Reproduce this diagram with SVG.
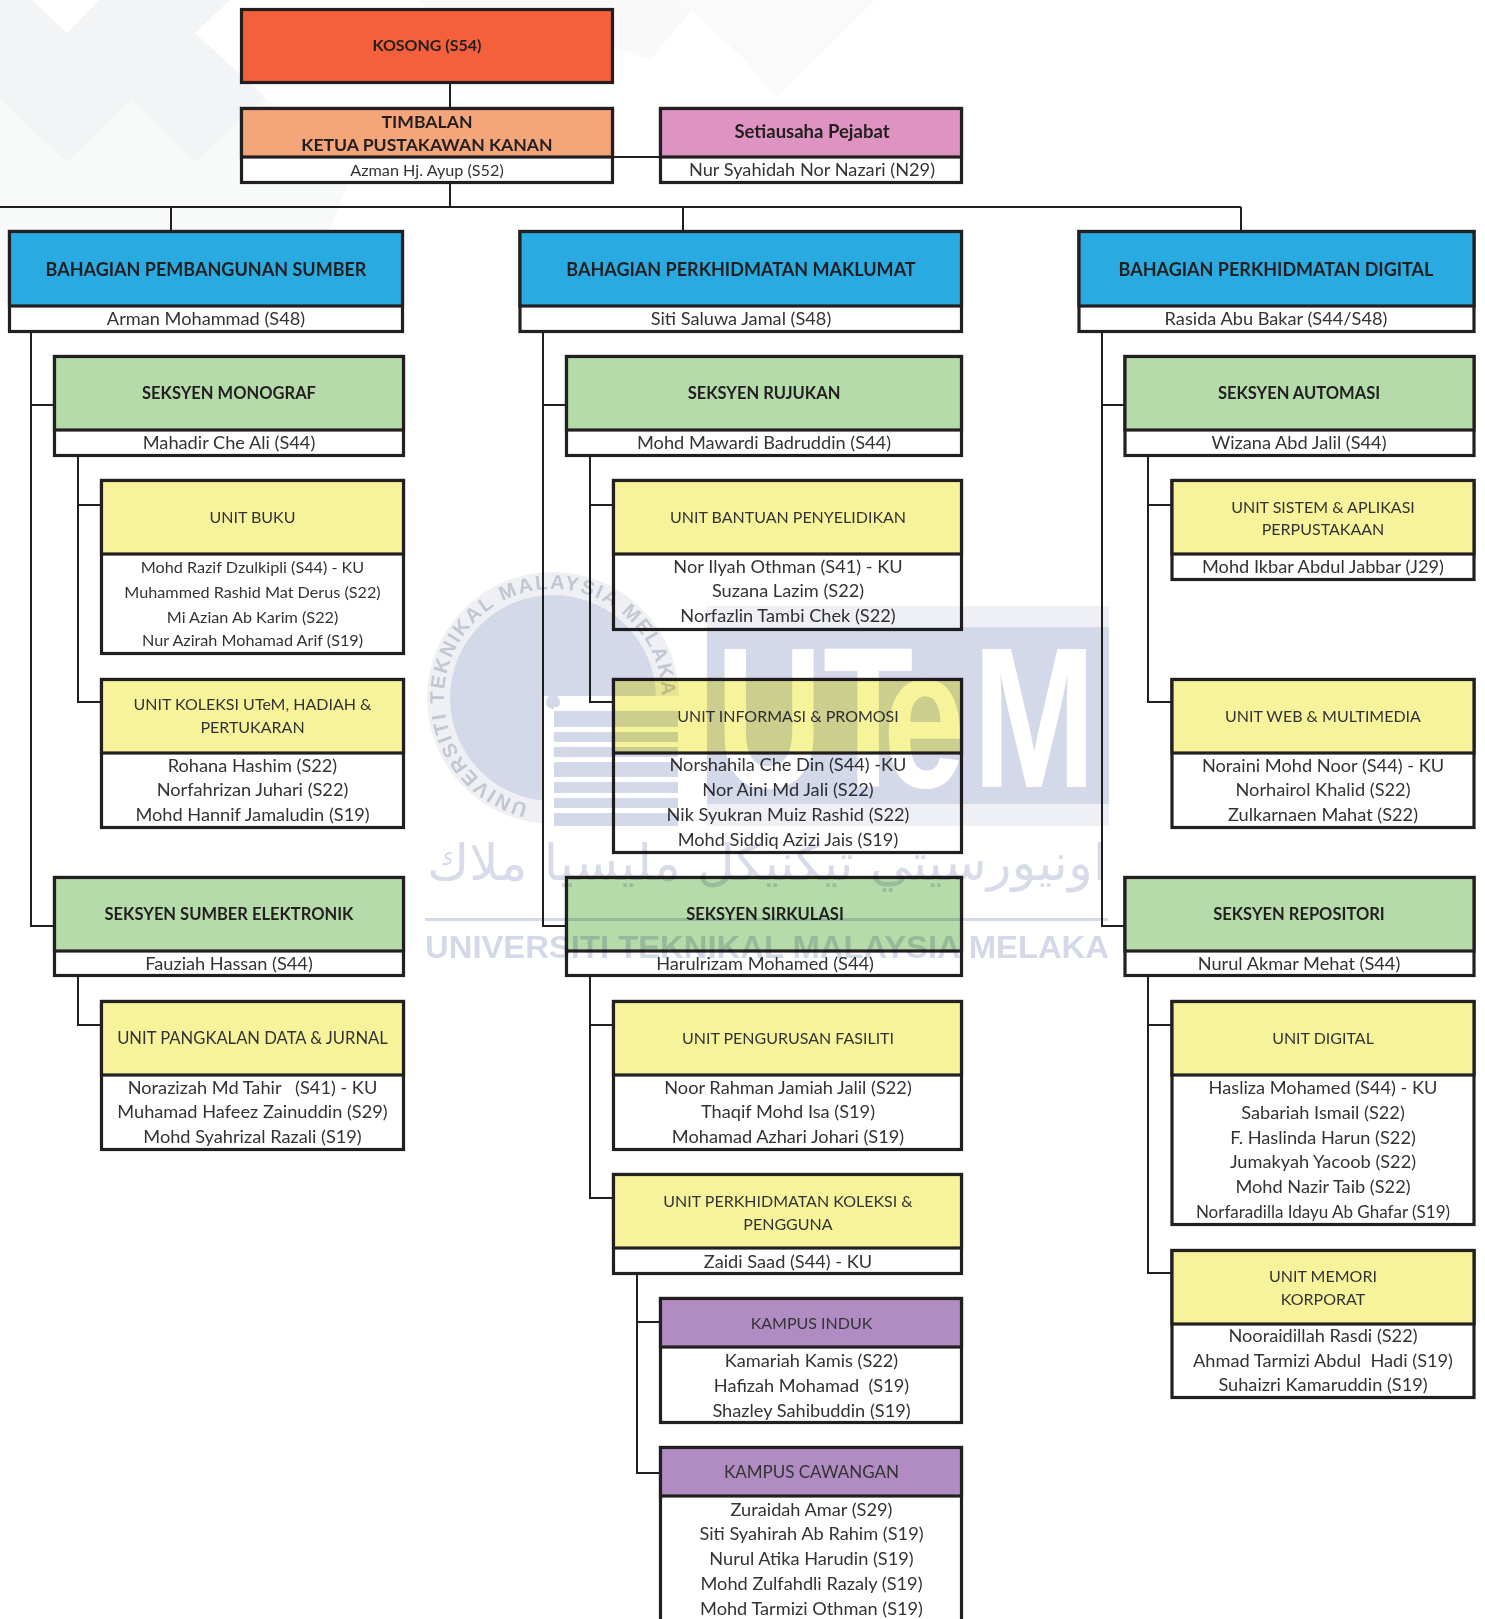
<svg xmlns="http://www.w3.org/2000/svg" width="1485" height="1619" viewBox="0 0 1485 1619" font-size="18.2" font-family="Lato, 'Liberation Sans', sans-serif">
<style>
text{text-anchor:middle;fill:#333335;white-space:pre}
.b{font-weight:700;fill:#231f20;font-size:16.500px}
.h{font-weight:700;fill:#231f20;font-size:18px}
.u{font-size:16px}
.n{font-size:16.200px}
.box{fill:#fff;stroke:#231f20;stroke-width:3.2}
.k{fill:#f4603c;stroke:#231f20;stroke-width:3.2}
.t{fill:#f4a57a;stroke:#231f20;stroke-width:3.2}
.s{fill:#de93c2;stroke:#231f20;stroke-width:3.2}
.d{fill:#29abe2;stroke:#231f20;stroke-width:3.2}
.g{fill:#b4dba9;stroke:#231f20;stroke-width:3.2}
.y{fill:#f7f39b;stroke:#231f20;stroke-width:3.2}
.p{fill:#b18cc2;stroke:#231f20;stroke-width:3.2}
.c path{fill:none;stroke:#231f20;stroke-width:2}
.wm{mix-blend-mode:multiply}
</style>
<rect width="1485" height="1619" fill="#fff"/>
<g id="background">
<polygon fill="#f3f4f5" points="0,0 32,0 67,33 99,0 230,0 195,33 265,97 195,163 131,100 67,163 0,100"/>
<polygon fill="#f8f9f9" points="0,100 67,163 131,100 195,163 265,97 350,180 300,300 200,330 120,260 60,330 0,300"/>
<polygon fill="#f9f9fa" points="420,0 700,0 650,60 560,30 470,60"/>
<polygon fill="#fafafb" points="680,0 875,0 776,98 745,60"/>
</g>
<g class="c" id="connectors">
<path d="M450 84V107M613 157H659M450 183V207M0 207H1241M171 207V231M683 207V231M1241 207V231"/>
<path d="M31 333V926H53M31 405H53M78 457V702H100M78 505H100M78 977V1025H100"/>
<path d="M543 333V926H566M543 405H566M590 457V702H612M590 505H612M590 977V1198H612M590 1025H612M637 1275V1473H659M637 1322H659"/>
<path d="M1102 333V926H1125M1102 405H1125M1148 457V702H1172M1148 505H1172M1148 977V1273H1172M1148 1025H1172"/>
</g>
<g id="kosong"><rect class="k" x="241.500" y="9.500" width="371" height="73"/><text class="b" x="427" y="51" style="font-size:16px">KOSONG (S54)</text></g>
<g id="timbalan"><rect class="box" x="241.500" y="108.500" width="371" height="74"/><rect class="t" x="241.500" y="108.500" width="371" height="48.500"/><text class="h" x="427" y="128" style="font-size:17.600px">TIMBALAN</text><text class="h" x="427" y="151" style="font-size:17.600px">KETUA PUSTAKAWAN KANAN</text><text class="n" x="427" y="176">Azman Hj. Ayup (S52)</text></g>
<g id="setiausaha"><rect class="box" x="660.500" y="108.500" width="301" height="74"/><rect class="s" x="660.500" y="108.500" width="301" height="48.500"/><text class="b" x="812" y="138" style="font-size:18.500px">Setiausaha Pejabat</text><text x="812" y="176">Nur Syahidah Nor Nazari (N29)</text></g>

<g id="b1"><rect class="box" x="9.500" y="231.500" width="393" height="100"/><rect class="d" x="9.500" y="231.500" width="393" height="74.500"/><text class="h" x="206" y="276">BAHAGIAN PEMBANGUNAN SUMBER</text><text x="206" y="325">Arman Mohammad (S48)</text></g>
<g id="b2"><rect class="box" x="520" y="231.500" width="441.500" height="100"/><rect class="d" x="520" y="231.500" width="441.500" height="74.500"/><text class="h" x="741" y="276">BAHAGIAN PERKHIDMATAN MAKLUMAT</text><text x="741" y="325">Siti Saluwa Jamal (S48)</text></g>
<g id="b3"><rect class="box" x="1079" y="231.500" width="395" height="100"/><rect class="d" x="1079" y="231.500" width="395" height="74.500"/><text class="h" x="1276" y="276">BAHAGIAN PERKHIDMATAN DIGITAL</text><text x="1276" y="325">Rasida Abu Bakar (S44/S48)</text></g>

<g id="s-monograf"><rect class="box" x="54.500" y="356.500" width="349" height="99"/><rect class="g" x="54.500" y="356.500" width="349" height="73.500"/><text class="b" x="229" y="399">SEKSYEN MONOGRAF</text><text x="229" y="449">Mahadir Che Ali (S44)</text></g>
<g id="s-rujukan"><rect class="box" x="566.500" y="356.500" width="395" height="99"/><rect class="g" x="566.500" y="356.500" width="395" height="73.500"/><text class="b" x="764" y="399">SEKSYEN RUJUKAN</text><text x="764" y="449">Mohd Mawardi Badruddin (S44)</text></g>
<g id="s-automasi"><rect class="box" x="1125" y="356.500" width="349" height="99"/><rect class="g" x="1125" y="356.500" width="349" height="73.500"/><text class="b" x="1299" y="399">SEKSYEN AUTOMASI</text><text x="1299" y="449">Wizana Abd Jalil (S44)</text></g>

<g id="u-buku"><rect class="box" x="101.500" y="480.500" width="302" height="173"/><rect class="y" x="101.500" y="480.500" width="302" height="73.500"/><text class="u" x="252.500" y="523">UNIT BUKU</text><text class="n" x="252.500" y="573">Mohd Razif Dzulkipli (S44) - KU</text><text class="n" x="252.500" y="598">Muhammed Rashid Mat Derus (S22)</text><text class="n" x="252.500" y="623">Mi Azian Ab Karim (S22)</text><text class="n" x="252.500" y="646">Nur Azirah Mohamad Arif (S19)</text></g>
<g id="u-bantuan"><rect class="box" x="613.500" y="480.500" width="348" height="149"/><rect class="y" x="613.500" y="480.500" width="348" height="73.500"/><text class="u" x="788" y="523">UNIT BANTUAN PENYELIDIKAN</text><text x="788" y="573">Nor Ilyah Othman (S41) - KU</text><text x="788" y="597">Suzana Lazim (S22)</text><text x="788" y="622">Norfazlin Tambi Chek (S22)</text></g>
<g id="u-sistem"><rect class="box" x="1172" y="480.500" width="302" height="99"/><rect class="y" x="1172" y="480.500" width="302" height="73.500"/><text class="u" x="1323" y="513">UNIT SISTEM &amp; APLIKASI</text><text class="u" x="1323" y="535">PERPUSTAKAAN</text><text x="1323" y="573">Mohd Ikbar Abdul Jabbar (J29)</text></g>

<g id="u-koleksi"><rect class="box" x="101.500" y="679.500" width="302" height="148"/><rect class="y" x="101.500" y="679.500" width="302" height="73.500"/><text class="u" x="252.500" y="710">UNIT KOLEKSI UTeM, HADIAH &amp;</text><text class="u" x="252.500" y="733">PERTUKARAN</text><text x="252.500" y="772">Rohana Hashim (S22)</text><text x="252.500" y="796">Norfahrizan Juhari (S22)</text><text x="252.500" y="821">Mohd Hannif Jamaludin (S19)</text></g>
<g id="u-informasi"><rect class="box" x="613.500" y="679.500" width="348" height="173"/><rect class="y" x="613.500" y="679.500" width="348" height="73.500"/><text class="u" x="788" y="722">UNIT INFORMASI &amp; PROMOSI</text><text x="788" y="771">Norshahila Che Din (S44) -KU</text><text x="788" y="796">Nor Aini Md Jali (S22)</text><text x="788" y="821">Nik Syukran Muiz Rashid (S22)</text><text x="788" y="846">Mohd Siddiq Azizi Jais (S19)</text></g>
<g id="u-web"><rect class="box" x="1172" y="679.500" width="302" height="148"/><rect class="y" x="1172" y="679.500" width="302" height="73.500"/><text class="u" x="1323" y="722">UNIT WEB &amp; MULTIMEDIA</text><text x="1323" y="772">Noraini Mohd Noor (S44) - KU</text><text x="1323" y="796">Norhairol Khalid (S22)</text><text x="1323" y="821">Zulkarnaen Mahat (S22)</text></g>

<g id="s-sumber"><rect class="box" x="54.500" y="877.500" width="349" height="98"/><rect class="g" x="54.500" y="877.500" width="349" height="73.500"/><text class="b" x="229" y="920">SEKSYEN SUMBER ELEKTRONIK</text><text x="229" y="970">Fauziah Hassan (S44)</text></g>
<g id="s-sirkulasi"><rect class="box" x="566.500" y="877.500" width="395" height="98"/><rect class="g" x="566.500" y="877.500" width="395" height="73.500"/><text class="b" x="765" y="920">SEKSYEN SIRKULASI</text><text x="765" y="970">Harulrizam Mohamed (S44)</text></g>
<g id="s-repositori"><rect class="box" x="1125" y="877.500" width="349" height="98"/><rect class="g" x="1125" y="877.500" width="349" height="73.500"/><text class="b" x="1299" y="920">SEKSYEN REPOSITORI</text><text x="1299" y="970">Nurul Akmar Mehat (S44)</text></g>

<g id="u-pangkalan"><rect class="box" x="101.500" y="1001.500" width="302" height="148"/><rect class="y" x="101.500" y="1001.500" width="302" height="73.500"/><text x="252.500" y="1044" style="font-size:16.600px">UNIT PANGKALAN DATA &amp; JURNAL</text><text x="252.500" y="1094">Norazizah Md Tahir   (S41) - KU</text><text x="252.500" y="1118">Muhamad Hafeez Zainuddin (S29)</text><text x="252.500" y="1143">Mohd Syahrizal Razali (S19)</text></g>
<g id="u-pengurusan"><rect class="box" x="613.500" y="1001.500" width="348" height="148"/><rect class="y" x="613.500" y="1001.500" width="348" height="73.500"/><text class="u" x="788" y="1044">UNIT PENGURUSAN FASILITI</text><text x="788" y="1094">Noor Rahman Jamiah Jalil (S22)</text><text x="788" y="1118">Thaqif Mohd Isa (S19)</text><text x="788" y="1143">Mohamad Azhari Johari (S19)</text></g>
<g id="u-digital"><rect class="box" x="1172" y="1001.500" width="302" height="223"/><rect class="y" x="1172" y="1001.500" width="302" height="73.500"/><text class="u" x="1323" y="1044">UNIT DIGITAL</text><text x="1323" y="1094">Hasliza Mohamed (S44) - KU</text><text x="1323" y="1119">Sabariah Ismail (S22)</text><text x="1323" y="1144">F. Haslinda Harun (S22)</text><text x="1323" y="1168">Jumakyah Yacoob (S22)</text><text x="1323" y="1193">Mohd Nazir Taib (S22)</text><text x="1323" y="1218" style="font-size:17px">Norfaradilla Idayu Ab Ghafar (S19)</text></g>

<g id="u-perkhidmatan"><rect class="box" x="613.500" y="1174.500" width="348" height="99"/><rect class="y" x="613.500" y="1174.500" width="348" height="73.500"/><text class="u" x="788" y="1207">UNIT PERKHIDMATAN KOLEKSI &amp;</text><text class="u" x="788" y="1230">PENGGUNA</text><text x="788" y="1268">Zaidi Saad (S44) - KU</text></g>
<g id="u-memori"><rect class="box" x="1172" y="1250.500" width="302" height="147"/><rect class="y" x="1172" y="1250.500" width="302" height="73.500"/><text class="u" x="1323" y="1282">UNIT MEMORI</text><text class="u" x="1323" y="1305">KORPORAT</text><text x="1323" y="1342">Nooraidillah Rasdi (S22)</text><text x="1323" y="1367">Ahmad Tarmizi Abdul  Hadi (S19)</text><text x="1323" y="1391">Suhaizri Kamaruddin (S19)</text></g>
<g id="k-induk"><rect class="box" x="660.500" y="1298.500" width="301" height="124"/><rect class="p" x="660.500" y="1298.500" width="301" height="48.500"/><text class="u" x="811.500" y="1329">KAMPUS INDUK</text><text x="811.500" y="1367">Kamariah Kamis (S22)</text><text x="811.500" y="1392">Hafizah Mohamad  (S19)</text><text x="811.500" y="1417">Shazley Sahibuddin (S19)</text></g>
<g id="k-cawangan"><rect class="box" x="660.500" y="1447.500" width="301" height="185"/><rect class="p" x="660.500" y="1447.500" width="301" height="48.500"/><text class="u" x="811.500" y="1478" style="font-size:17px">KAMPUS CAWANGAN</text><text x="811.500" y="1516">Zuraidah Amar (S29)</text><text x="811.500" y="1540">Siti Syahirah Ab Rahim (S19)</text><text x="811.500" y="1565">Nurul Atika Harudin (S19)</text><text x="811.500" y="1590">Mohd Zulfahdli Razaly (S19)</text><text x="811.500" y="1615">Mohd Tarmizi Othman (S19)</text></g>

<g id="watermark" class="wm">
<defs><path id="ring" d="M 528 804 A 109 109 0 1 1 662 698"/></defs>
<circle cx="553" cy="698" r="126" fill="#eff0f4"/>
<circle cx="553" cy="698" r="103" fill="#d3d9e9"/>
<text font-size="20" font-weight="700" style="fill:#c3c7d2;text-anchor:start;font-family:'Liberation Sans',sans-serif;letter-spacing:2px"><textPath href="#ring">UNIVERSITI TEKNIKAL MALAYSIA MELAKA</textPath></text>
<rect x="542" y="696" width="140" height="132" fill="#fff"/>
<rect x="707" y="606" width="402" height="220" fill="#eff0f5"/>
<rect x="707" y="627" width="402" height="177" fill="#d3d9e9"/>
<rect x="554" y="708" width="124" height="118" fill="#d3d9e9"/>
<circle cx="553" cy="702" r="7" fill="#d3d9e9"/>
<path fill="#fff" d="M554 707h124v4H554zM554 727h124v5H554zM554 742h124v5H554zM554 757h124v5H554zM554 777h124v5H554zM554 793h124v5H554zM554 808h124v5H554z"/>
<text transform="translate(726,787) scale(.74,1)" x="-14 131 212 333" font-size="200" font-weight="700" style="fill:#fff;text-anchor:start;font-family:'Liberation Sans',sans-serif">UTeM</text>
<text x="767" y="880" font-size="50" direction="rtl" textLength="680" lengthAdjust="spacingAndGlyphs" style="fill:#d8dcea;font-family:'DejaVu Sans',sans-serif">اونيورسيتي تيكنيكل مليسيا ملاك</text>
<rect x="425" y="918" width="683" height="3" fill="#d3d9e9"/>
<text x="767" y="958" font-size="32" font-weight="700" textLength="684" lengthAdjust="spacingAndGlyphs" style="fill:#d3d9e9;font-family:'Liberation Sans',sans-serif">UNIVERSITI TEKNIKAL MALAYSIA MELAKA</text>
</g>
</svg>
